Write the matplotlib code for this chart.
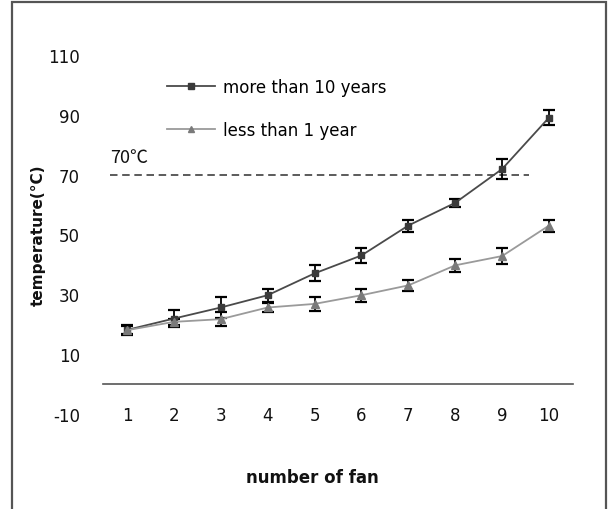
import matplotlib
matplotlib.use("Agg")
import matplotlib.pyplot as plt
from matplotlib.patches import Rectangle

plt.rcParams["axes.unicode_minus"] = False

fans = [1, 2, 3, 4, 5, 6, 7, 8, 9, 10]
old_temp = [18.1, 21.9, 25.6, 29.7, 37.0, 43.0, 53.0, 60.6, 71.9, 89.1]
old_err = [1.5, 2.8, 3.6, 2.2, 2.7, 2.6, 2.0, 1.3, 3.2, 2.6]
new_temp = [18.0, 20.8, 21.7, 25.6, 26.8, 29.7, 33.0, 39.7, 42.8, 53.0]
new_err = [1.5, 1.0, 2.4, 1.5, 2.4, 2.2, 1.8, 2.2, 2.8, 2.0]
yticks = [-10, 10, 30, 50, 70, 90, 110]
labels = ["more than 10 years", "less than 1 year"]
threshold = 70
threshold_label = "70℃"

W, H = 609, 510
fig = plt.figure(figsize=(W / 100, H / 100), dpi=100)
ax = fig.add_axes([103.5 / W, 1 - 415 / H, 469 / W, 359 / H])

ax.errorbar(fans, old_temp, yerr=old_err, fmt="none",
            ecolor="black", elinewidth=1.3, capsize=4.5, capthick=1.6, zorder=3)
ax.errorbar(fans, new_temp, yerr=new_err, fmt="none",
            ecolor="black", elinewidth=1.3, capsize=4.5, capthick=1.6, zorder=3)
ax.plot(fans, old_temp, color="#4a4a4a", lw=1.3, marker="s", ms=5,
        mfc="#3a3a3a", mec="#3a3a3a", label=labels[0], zorder=4)
ax.plot(fans, new_temp, color="#9a9a9a", lw=1.3, marker="^", ms=5.5,
        mfc="#7a7a7a", mec="#7a7a7a", label=labels[1], zorder=4)

ax.hlines(threshold, 0.64, 9.57, colors="#404040", lw=1.2,
          linestyles=(0, (4.5, 2.8)), zorder=2)
ax.text(0.64, 76, threshold_label, fontsize=13, ha="left", va="center",
        color="#111111", family=["Noto Sans CJK SC", "DejaVu Sans"])

ax.set_xlim(0.5, 10.5)
ax.set_ylim(-10, 110)
ax.set_xticks(fans)
ax.set_yticks(yticks)
for s in ["top", "right", "left"]:
    ax.spines[s].set_visible(False)
ax.spines["bottom"].set_position(("data", 0))
ax.spines["bottom"].set_color("#555555")
ax.spines["bottom"].set_linewidth(1.2)
ax.tick_params(axis="both", length=0, labelsize=12, colors="#111111")
ax.tick_params(axis="x", pad=16)
ax.tick_params(axis="y", pad=17)

leg = ax.legend(loc="upper left", bbox_to_anchor=(167 / W, 1 - 79 / H),
                bbox_transform=fig.transFigure, frameon=False, fontsize=12,
                handlelength=2.9, handletextpad=0.45, labelspacing=1.5,
                borderpad=0, borderaxespad=0, markerscale=0.8)

fig.text(312 / W, 1 - 478 / H, "number of fan", ha="center", va="center",
         fontsize=12, fontweight="bold", color="#111111")
fig.text(38 / W, 1 - 235 / H, "temperature(°C)", ha="center", va="center",
         rotation=90, fontsize=11, fontweight="bold", color="#111111")

fig.patches.append(Rectangle((12 / W, -0.02), (606 - 12) / W, 0.02 + 1 - 3 / H,
                             transform=fig.transFigure, fill=False,
                             edgecolor="#555555", lw=1.6))

fig.savefig("out.png", dpi=100)
